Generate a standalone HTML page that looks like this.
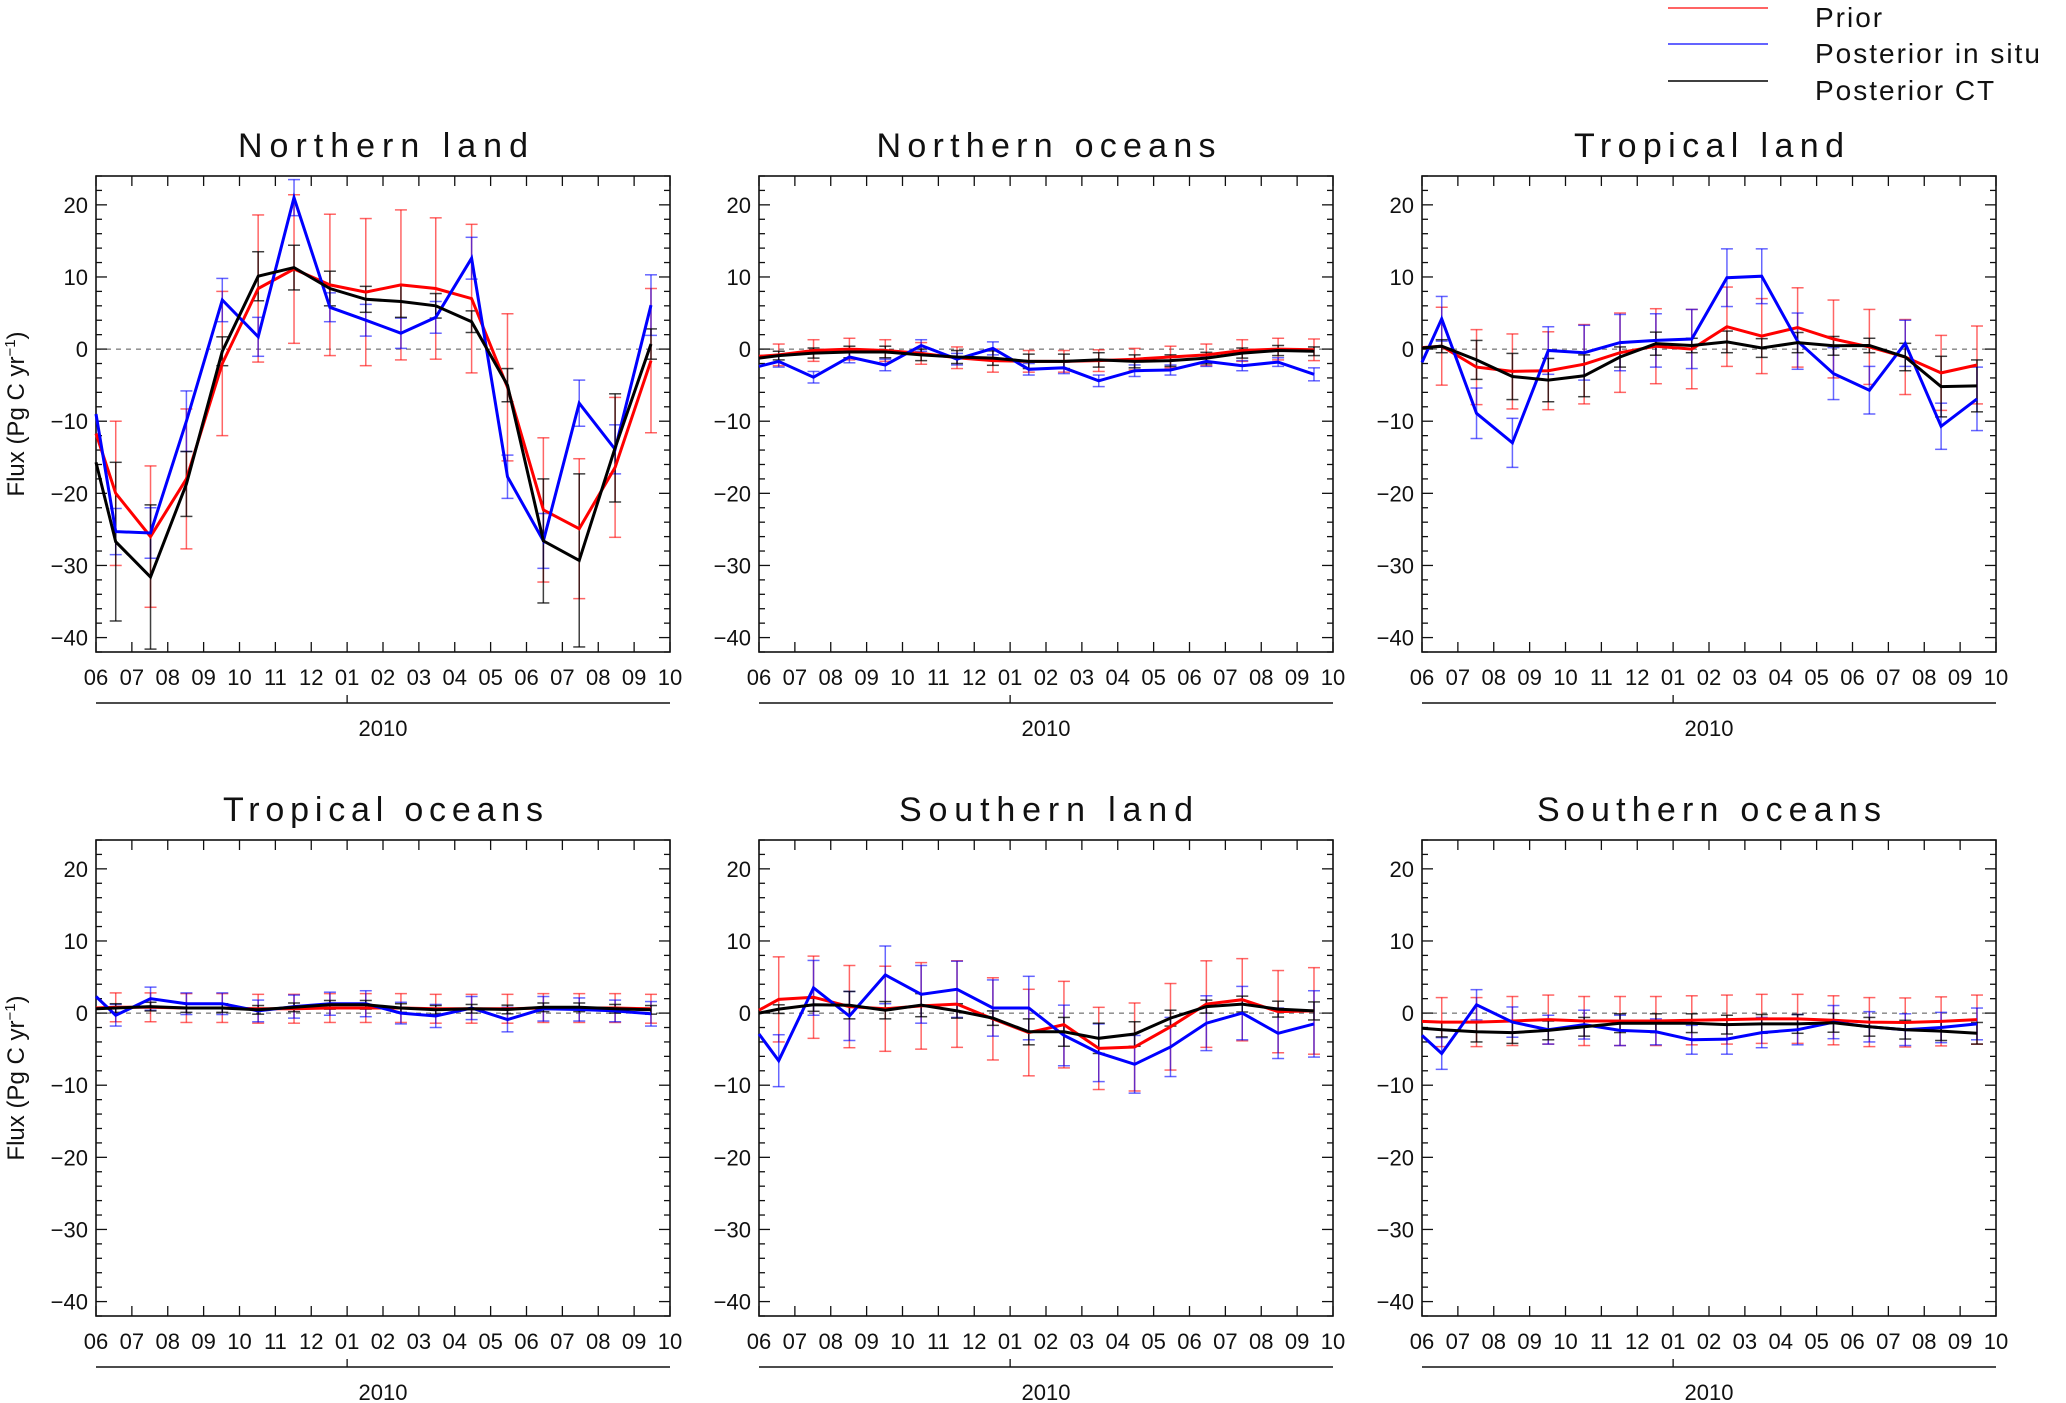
<!DOCTYPE html>
<html><head><meta charset="utf-8">
<style>
html,body{margin:0;padding:0;background:#fff;}
svg{display:block;}
text{font-family:"Liberation Sans",sans-serif;fill:#111;}
</style></head>
<body>
<svg id="fig" width="2066" height="1403" viewBox="0 0 2066 1403" xmlns="http://www.w3.org/2000/svg">
<g>
<line x1="1668" y1="8" x2="1768" y2="8" stroke="#ff3030" stroke-width="1.6"/>
<text x="1815" y="27" font-size="28" letter-spacing="2" fill="#222">Prior</text>
<line x1="1668" y1="44" x2="1768" y2="44" stroke="#3030ff" stroke-width="1.6"/>
<text x="1815" y="63" font-size="28" letter-spacing="2" fill="#222">Posterior in situ</text>
<line x1="1668" y1="81" x2="1768" y2="81" stroke="#000" stroke-width="1.6"/>
<text x="1815" y="100" font-size="28" letter-spacing="2" fill="#222">Posterior CT</text>
</g>
</svg>
<script>
// x positions in months since June 2009 (dates of samples)
const monthPos = [0,0.55,1.52,2.52,3.52,4.52,5.52,6.52,7.52,8.5,9.47,10.47,11.47,12.47,13.47,14.47,15.47];
const monthLabels = ["06","07","08","09","10","11","12","01","02","03","04","05","06","07","08","09","10"];
const yTickValues = [20,10,0,-10,-20,-30,-40];
const panelTitles = ["Northern land","Northern oceans","Tropical land","Tropical oceans","Southern land","Southern oceans"];

// Northern land
const nlPrior = [-11.7,-20,-26,-18,-2,8.4,11.1,8.9,7.9,8.9,8.4,7,-5.3,-22.3,-24.9,-16.4,-1.6];
const nlPriorErr = [0,10,9.8,9.7,10,10.2,10.3,9.8,10.2,10.4,9.8,10.3,10.2,10,9.7,9.7,10];
const nlInsitu = [-9,-25.3,-25.5,-10,6.8,1.7,21,5.8,4,2.2,4.4,12.6,-17.7,-26.6,-7.5,-13.9,6.1];
const nlInsituErr = [0,3.2,3.5,4.2,3,2.7,2.5,2,2.2,2.1,2.2,2.9,3,3.8,3.2,3.4,4.2];
const nlCT = [-15.7,-26.7,-31.6,-18.7,-0.3,10.1,11.3,8.4,6.9,6.6,6,3.8,-5,-26.6,-29.3,-13.7,0.7];
const nlCTErr = [0,11,10,4.5,2,3.4,3.1,2.4,1.8,2.2,1.7,1.5,2.3,8.6,12,7.5,2.1];
// Northern oceans
const noPrior = [-1.0,-0.8,-0.2,0,-0.2,-0.6,-1.2,-1.6,-1.7,-1.7,-1.6,-1.4,-1.1,-0.8,-0.2,0,-0.1];
const noPriorErr = [0,1.5,1.5,1.5,1.5,1.5,1.5,1.6,1.5,1.5,1.5,1.5,1.5,1.5,1.5,1.5,1.5];
const noInsitu = [-2.4,-1.7,-3.9,-1.1,-2.2,0.5,-1.4,0.1,-2.8,-2.6,-4.4,-3.0,-2.9,-1.7,-2.3,-1.8,-3.5];
const noInsituErr = [0,0.8,0.8,0.8,0.8,0.8,0.8,0.9,0.8,0.8,0.8,0.8,0.7,0.7,0.7,0.6,0.9];
const noCT = [-1.25,-0.9,-0.55,-0.4,-0.4,-0.8,-1.1,-1.25,-1.7,-1.7,-1.5,-1.7,-1.6,-1.25,-0.55,-0.2,-0.3];
const noCTErr = [0,0.6,0.7,0.8,0.8,0.8,0.9,1.0,1.0,1.0,1.0,0.9,0.8,0.8,0.7,0.7,0.6];
// Tropical land
const tlPrior = [0.2,0.4,-2.5,-3.1,-3.0,-2.1,-0.5,0.4,0,3.1,1.8,3.0,1.4,0.3,-1.1,-3.3,-2.2];
const tlPriorErr = [0,5.4,5.2,5.2,5.4,5.5,5.5,5.2,5.5,5.5,5.2,5.5,5.4,5.2,5.2,5.2,5.4];
const tlInsitu = [-1.85,4.2,-8.9,-13,-0.2,-0.5,0.9,1.2,1.4,9.9,10.1,1.1,-3.4,-5.7,0.8,-10.7,-6.9];
const tlInsituErr = [0,3.1,3.5,3.4,3.3,3.8,3.9,3.7,4.1,4,3.8,3.9,3.6,3.3,3.2,3.2,4.4];
const tlCT = [0.15,0.4,-1.5,-3.8,-4.3,-3.7,-1.1,0.75,0.5,1.0,0.15,0.9,0.45,0.5,-1.1,-5.2,-5.1];
const tlCTErr = [0,0.9,2.7,3.2,3,2.9,1.4,1.6,1,1.5,1.3,1.4,1.3,1,1.9,4.2,3.6];
// Tropical oceans
const toPrior = [0.7,0.8,0.8,0.7,0.7,0.6,0.6,0.7,0.7,0.7,0.6,0.6,0.6,0.7,0.7,0.7,0.6];
const toPriorErr = [0,2,2,2,2,2,2,2,2,2,2,2,2,2,2,2,2];
const toInsitu = [2.3,-0.3,2.0,1.3,1.3,0.3,0.9,1.3,1.3,0,-0.4,0.7,-0.9,0.6,0.5,0.3,-0.1];
const toInsituErr = [0,1.5,1.6,1.5,1.5,1.5,1.6,1.6,1.8,1.5,1.6,1.6,1.7,1.7,1.6,1.5,1.7];
const toCT = [0.6,0.7,0.9,0.7,0.7,0.45,0.8,1.15,1.15,0.7,0.45,0.6,0.5,0.8,0.8,0.6,0.45];
const toCTErr = [0,0.6,0.6,0.6,0.6,0.6,0.6,0.6,0.6,0.6,0.6,0.6,0.6,0.6,0.6,0.6,0.6];
// Southern land
const slPrior = [0.4,1.9,2.2,0.9,0.6,1.0,1.25,-0.8,-2.7,-1.6,-4.9,-4.7,-1.9,1.25,1.85,0.2,0.3];
const slPriorErr = [0,5.9,5.7,5.7,5.9,6,6,5.7,6,6,5.7,6.1,6,6,5.7,5.7,6];
const slInsitu = [-2.9,-6.6,3.5,-0.4,5.3,2.6,3.3,0.7,0.7,-3.1,-5.5,-7.1,-4.7,-1.4,0,-2.8,-1.5];
const slInsituErr = [0,3.6,3.8,3.4,4,4,3.9,3.9,4.4,4.2,4,4,4.1,3.8,3.7,3.5,4.6];
const slCT = [0,0.55,1.15,1.1,0.4,1.1,0.3,-0.7,-2.6,-2.6,-3.5,-2.9,-0.7,0.9,1.25,0.55,0.3];
const slCTErr = [0,0.6,0.9,1.9,1.2,1.6,1,1,1.8,2,2.1,1.7,1.1,0.9,1.1,1.1,1.25];
// Southern oceans
const soPrior = [-1.15,-1.25,-1.25,-1.1,-0.9,-1.1,-1.1,-1.1,-1.0,-0.9,-0.8,-0.8,-1.0,-1.25,-1.3,-1.15,-0.9];
const soPriorErr = [0,3.4,3.4,3.4,3.4,3.4,3.4,3.4,3.4,3.4,3.4,3.4,3.4,3.4,3.4,3.4,3.4];
const soInsitu = [-3.1,-5.6,1.15,-1.25,-2.3,-1.6,-2.4,-2.6,-3.7,-3.6,-2.7,-2.3,-1.25,-1.9,-2.3,-2.0,-1.5];
const soInsituErr = [0,2.2,2.1,2.1,2.0,2.0,2.1,1.8,2.0,2.1,2.1,2.1,2.3,2.1,2.2,2.1,2.2];
const soCT = [-2.1,-2.3,-2.6,-2.7,-2.4,-1.9,-1.4,-1.4,-1.4,-1.6,-1.5,-1.5,-1.35,-1.9,-2.3,-2.5,-2.8];
const soCTErr = [0,1.0,1.4,1.5,1.3,1.3,1.3,1.3,1.3,1.3,1.3,1.3,1.3,1.3,1.3,1.3,1.5];

const panelSeries = [
  [nlPrior,nlPriorErr,nlInsitu,nlInsituErr,nlCT,nlCTErr],
  [noPrior,noPriorErr,noInsitu,noInsituErr,noCT,noCTErr],
  [tlPrior,tlPriorErr,tlInsitu,tlInsituErr,tlCT,tlCTErr],
  [toPrior,toPriorErr,toInsitu,toInsituErr,toCT,toCTErr],
  [slPrior,slPriorErr,slInsitu,slInsituErr,slCT,slCTErr],
  [soPrior,soPriorErr,soInsitu,soInsituErr,soCT,soCTErr]
];
const panelKeys = ["northern-land","northern-oceans","tropical-land","tropical-oceans","southern-land","southern-oceans"];

const NS = "http://www.w3.org/2000/svg";
const svg = document.getElementById("fig");
const W = 574, H = 476, YMIN = -42, YMAX = 24, XMAX = 16;
const colLeft = [96, 759, 1422];
const rowTop = [176, 840];
const titleW = [290, 339, 270, 320, 294, 344];

function mk(tag, attrs, parent) {
  const e = document.createElementNS(NS, tag);
  for (const k in attrs) e.setAttribute(k, attrs[k]);
  (parent || svg).appendChild(e);
  return e;
}

panelTitles.forEach((title, p) => {
  const L = colLeft[p % 3], T = rowTop[Math.floor(p / 3)];
  const key = panelKeys[p];
  const xs = v => L + v / XMAX * W;
  const ys = v => T + (YMAX - v) / (YMAX - YMIN) * H;
  const g = mk("g", {});
  
  

  const t = mk("text", {x: L + W / 2, y: T - 19, "font-size": 34, "text-anchor": "middle", textLength: titleW[p], lengthAdjust: "spacing", fill: "#333"}, g);
  t.textContent = title;
  
  

  const z = mk("line", {x1: L, x2: L + W, y1: ys(0), y2: ys(0), stroke: "#555", "stroke-width": 1, "stroke-dasharray": "5,5"}, g);
  
  

  for (let v = -42; v <= 24; v += 2) {
    const major = v % 10 === 0;
    const len = major ? 11 : 6;
    const y = ys(v);
    mk("line", {x1: L, x2: L + len, y1: y, y2: y, stroke: "#111", "stroke-width": 1.3}, g);
    mk("line", {x1: L + W, x2: L + W - len, y1: y, y2: y, stroke: "#111", "stroke-width": 1.3}, g);
  }
  yTickValues.forEach(v => {
    const tl = mk("text", {x: L - 8, y: ys(v) + 8, "font-size": 22, "text-anchor": "end", fill: "#222"}, g);
    tl.textContent = v < 0 ? "\u2212" + Math.abs(v) : String(v);
    
    
  });
  monthLabels.forEach((lab, i) => {
    const x = xs(i);
    mk("line", {x1: x, x2: x, y1: T + H, y2: T + H - 10, stroke: "#111", "stroke-width": 1.3}, g);
    mk("line", {x1: x, x2: x, y1: T, y2: T + 10, stroke: "#111", "stroke-width": 1.3}, g);
    const xl = mk("text", {x: x, y: T + H + 33, "font-size": 22, "text-anchor": "middle", fill: "#222"}, g);
    xl.textContent = lab;
    
    
  });
  const fr = mk("rect", {x: L, y: T, width: W, height: H, fill: "none", stroke: "#111", "stroke-width": 1.6}, g);
  
  
  const ya = mk("line", {x1: L, x2: L + W, y1: T + H + 51, y2: T + H + 51, stroke: "#111", "stroke-width": 1.5}, g);
  
  
  mk("line", {x1: xs(7), x2: xs(7), y1: T + H + 51, y2: T + H + 43, stroke: "#111", "stroke-width": 1.3}, g);
  const yr = mk("text", {x: L + W / 2, y: T + H + 84, "font-size": 22, "text-anchor": "middle", fill: "#222"}, g);
  yr.textContent = "2010";
  
  

  if (p % 3 === 0) {
    const cy = T + H / 2, cx = 24;
    const yt = mk("text", {x: cx, y: cy, "font-size": 24, "text-anchor": "middle", fill: "#222", transform: "rotate(-90 " + cx + " " + cy + ")"}, g);
    
    
    yt.appendChild(document.createTextNode("Flux (Pg C yr"));
    const sup = mk("tspan", {"font-size": 15, dy: -9}, yt);
    sup.textContent = "\u22121";
    const rest = mk("tspan", {"font-size": 24, dy: 9}, yt);
    rest.textContent = ")";
  }

  const ser = panelSeries[p];
  const specs = [
    {vals: ser[0], errs: ser[1], col: "#ff0000", ecol: "rgba(255,0,0,0.6)", name: "prior"},
    {vals: ser[2], errs: ser[3], col: "#0000ff", ecol: "rgba(0,0,255,0.6)", name: "posterior-in-situ"},
    {vals: ser[4], errs: ser[5], col: "#000000", ecol: "rgba(0,0,0,0.75)", name: "posterior-ct"}
  ];
  specs.forEach(s => {
    const eg = mk("g", {stroke: s.ecol, "stroke-width": 1.5}, g);
    
    
    s.vals.forEach((v, i) => {
      const e = s.errs[i];
      if (!e) return;
      const x = xs(monthPos[i]);
      const y1 = ys(v + e), y2 = ys(v - e);
      mk("line", {x1: x, x2: x, y1: y1, y2: y2}, eg);
      mk("line", {x1: x - 6, x2: x + 6, y1: y1, y2: y1}, eg);
      mk("line", {x1: x - 6, x2: x + 6, y1: y2, y2: y2}, eg);
    });
  });
  specs.forEach(s => {
    const pts = s.vals.map((v, i) => xs(monthPos[i]).toFixed(1) + "," + ys(v).toFixed(1)).join(" ");
    const pl = mk("polyline", {points: pts, fill: "none", stroke: s.col, "stroke-width": 3, "stroke-linejoin": "miter"}, g);
    
    
  });
});
</script>
</body></html>
